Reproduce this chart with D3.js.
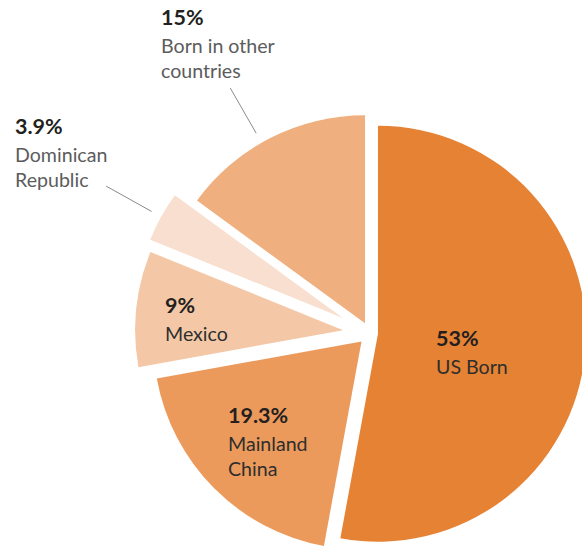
<!DOCTYPE html>
<html>
<head>
<meta charset="utf-8">
<script src="https://cdn.jsdelivr.net/npm/d3@7"></script>
<style>
  body { margin: 0; background: #fff; }
  svg { display: block; font-family: Lato, "Open Sans", sans-serif; }
  .pct { font-weight: 700; font-size: 21.5px; fill: #231f20; }
  .lbl { font-size: 19.6px; fill: #2e2e2e; }
  .lbl.out { fill: #5c5c5c; }
  .leader { stroke: #8a8a8a; stroke-width: 1; }
</style>
</head>
<body>
<svg width="582" height="548"></svg>
<script>
// data
const categories = ["US Born", "Mainland China", "Mexico", "Dominican Republic", "Born in other countries"];
const shares = [53, 19.3, 9, 3.9, 15];
const pctLabels = ["53%", "19.3%", "9%", "3.9%", "15%"];
const labelLines = [["US Born"], ["Mainland", "China"], ["Mexico"], ["Dominican", "Republic"], ["Born in other", "countries"]];

const colors = ["#e68234", "#ec9a5b", "#f4c8a6", "#f9dfcf", "#efaf7f"];

let width = 582,
    height = 548,
    cx = 370, cy = 333,
    radius = 208;

// how far each slice is pulled out along its middle angle
const explode = [8, 12, 27, 31, 11];
// label placement (text only) and whether it sits outside with a leader line
const labelPos = [[436, 346], [228, 423], [165, 313], [15, 134], [161, 25]];
const outside = [false, false, false, true, true];
const leaderNudge = [0, 0, 0, 0, -0.05]; // radians

const svg = d3.select("svg");

const pie = d3.pie().sort(null).value(d => d);
const arcs = pie(shares);

const arc = d3.arc().innerRadius(0).outerRadius(radius);

const g = svg.append("g").attr("transform", `translate(${cx},${cy})`);

function offset(d, i) {
  let a = (d.startAngle + d.endAngle) / 2;
  return [Math.sin(a) * explode[i], -Math.cos(a) * explode[i]];
}

g.selectAll("path")
  .data(arcs)
  .join("path")
  .attr("d", arc)
  .attr("fill", (d, i) => colors[i])
  .attr("transform", (d, i) => `translate(${offset(d, i)})`);

// leader lines for the two thin slices labelled outside
arcs.forEach((d, i) => {
  if (!outside[i]) return;
  let a = (d.startAngle + d.endAngle) / 2 + leaderNudge[i];
  let o = offset(d, i);
  let r0 = radius + 11, r1 = radius + 63;
  g.append("line")
    .attr("class", "leader")
    .attr("x1", o[0] + Math.sin(a) * r0)
    .attr("y1", o[1] - Math.cos(a) * r0)
    .attr("x2", o[0] + Math.sin(a) * r1)
    .attr("y2", o[1] - Math.cos(a) * r1);
});

// labels
categories.forEach((c, i) => {
  let t = svg.append("g").attr("transform", `translate(${labelPos[i]})`);
  t.append("text").attr("class", "pct").text(pctLabels[i]);
  labelLines[i].forEach((line, j) => {
    t.append("text")
      .attr("class", outside[i] ? "lbl out" : "lbl")
      .attr("y", 28 + j * 25)
      .text(line);
  });
});
</script>
</body>
</html>
